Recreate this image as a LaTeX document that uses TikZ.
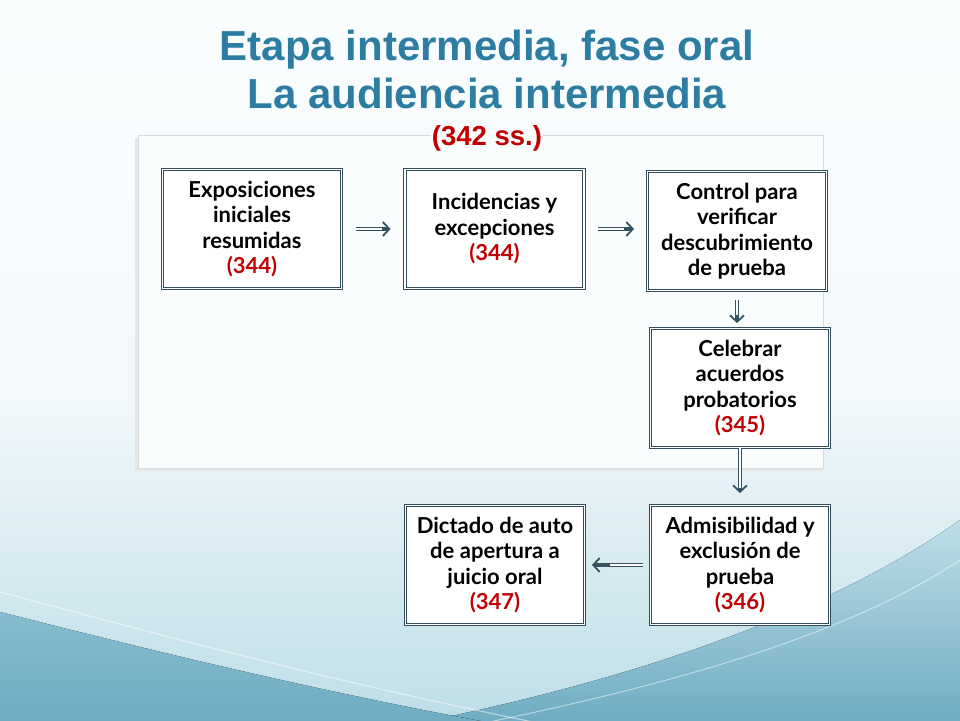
\documentclass[tikz,border=0pt]{standalone}
\usepackage{fontspec}
\setmainfont{Liberation Sans}
\newfontfamily\boxfont{Lato}
\usetikzlibrary{arrows.meta}
\definecolor{titleblue}{RGB}{44,125,161}
\definecolor{redc}{RGB}{192,0,0}
\definecolor{boxcol}{RGB}{52,78,92}
\definecolor{arrcol}{RGB}{52,82,96}
\definecolor{bgtop}{RGB}{250,253,254}
\definecolor{bgmid}{RGB}{242,248,251}
\definecolor{bgbot}{RGB}{190,222,231}
\definecolor{tealB}{RGB}{134,188,206}
\definecolor{tealD}{RGB}{108,170,193}
\definecolor{panelline}{RGB}{214,220,222}
\begin{document}
\begin{tikzpicture}[x=1pt,y=-1pt,
  stepbox/.style={draw=boxcol, double=white, double distance=1.8pt, line width=0.9pt,
    fill=white, minimum width=179pt, minimum height=119pt, align=center, inner sep=2pt,
    font=\boxfont\bfseries\fontsize{22}{25.5}\selectfont,
    execute at begin node={\rule{0pt}{27pt}}},
  shaft/.style={draw=arrcol, double, double distance=1.8pt, line width=1.1pt},
  tipline/.style={draw=arrcol, line width=1.8pt, -{Straight Barb[length=6.5pt,width=14pt]}},
  titletext/.style={text=titleblue, font=\bfseries\fontsize{42}{46}\selectfont, anchor=base, inner sep=0pt}]
\useasboundingbox (0,0) rectangle (960,720);
% background
\fill[top color=bgtop, bottom color=bgmid] (0,0) rectangle (960,400);
\fill[top color=bgmid, bottom color=bgbot] (0,400) rectangle (960,720);
% right wave
\fill[top color=bgbot, bottom color=tealD]
  (380,730) .. controls (600,690) and (820,620) .. (960,520) -- (960,730) -- cycle;
\draw[white, opacity=0.5, line width=1pt]
  (450,730) .. controls (650,690) and (840,640) .. (960,560);
% left wave
\fill[top color=tealB, bottom color=tealD]
  (0,612) .. controls (150,650) and (350,700) .. (560,735) -- (0,735) -- cycle;
\draw[white, opacity=0.55, line width=1pt]
  (0,592) .. controls (150,632) and (360,690) .. (600,735);
% panel
\fill[black!10] (135,138) rectangle (822,471);
\draw[panelline, fill=bgtop] (138,135) rectangle (823,468);
% title
\node[titletext] (t1) at (487,60) {Etapa intermedia, fase oral};
\node[titletext] (t2) at (487,108) {La audiencia intermedia};
\node[text=redc, font=\bfseries\fontsize{27.5}{30}\selectfont, anchor=base, fill=bgtop, inner sep=1pt] (t3) at (487,145) {(342 ss.)};
% boxes
\node[stepbox] (b1) at (252,229) {Exposiciones\\iniciales\\resumidas\\\textcolor{redc}{(344)}};
\node[stepbox] (b2) at (494.5,229) {Incidencias y\\excepciones\\\textcolor{redc}{(344)}};
\node[stepbox] (b3) at (737,231) {Control para\\verificar\\descubrimiento\\de prueba};
\node[stepbox] (b4) at (740,388) {Celebrar\\acuerdos\\probatorios\\\textcolor{redc}{(345)}};
\node[stepbox] (b5) at (740,565) {Admisibilidad y\\exclusi\'on de\\prueba\\\textcolor{redc}{(346)}};
\node[stepbox] (b6) at (495,565) {Dictado de auto\\de apertura a\\juicio oral\\\textcolor{redc}{(347)}};
% arrows: double shaft + barb head
\draw[shaft, shorten <=14pt, shorten >=16pt] (b1.east) -- (b1.east -| b2.west);
\draw[tipline, shorten <=40pt, shorten >=14pt] (b1.east) -- (b1.east -| b2.west);
\draw[shaft, shorten <=14pt, shorten >=15pt] (b2.east) -- (b2.east -| b3.west);
\draw[tipline, shorten <=40pt, shorten >=13pt] (b2.east) -- (b2.east -| b3.west);
\draw[shaft, shorten <=9pt, shorten >=7pt] (b3.south) -- (b3.south |- b4.north);
\draw[tipline, shorten <=24pt, shorten >=5pt] (b3.south) -- (b3.south |- b4.north);
\draw[shaft, shorten >=14pt] (b4.south) -- (b4.south |- b5.north);
\draw[tipline, shorten <=40pt, shorten >=12pt] (b4.south) -- (b4.south |- b5.north);
\draw[shaft, shorten <=7pt, shorten >=9pt] (b5.west) -- (b5.west -| b6.east);
\draw[tipline, shorten <=40pt, shorten >=7pt] (b5.west) -- (b5.west -| b6.east);
\end{tikzpicture}
\end{document}
